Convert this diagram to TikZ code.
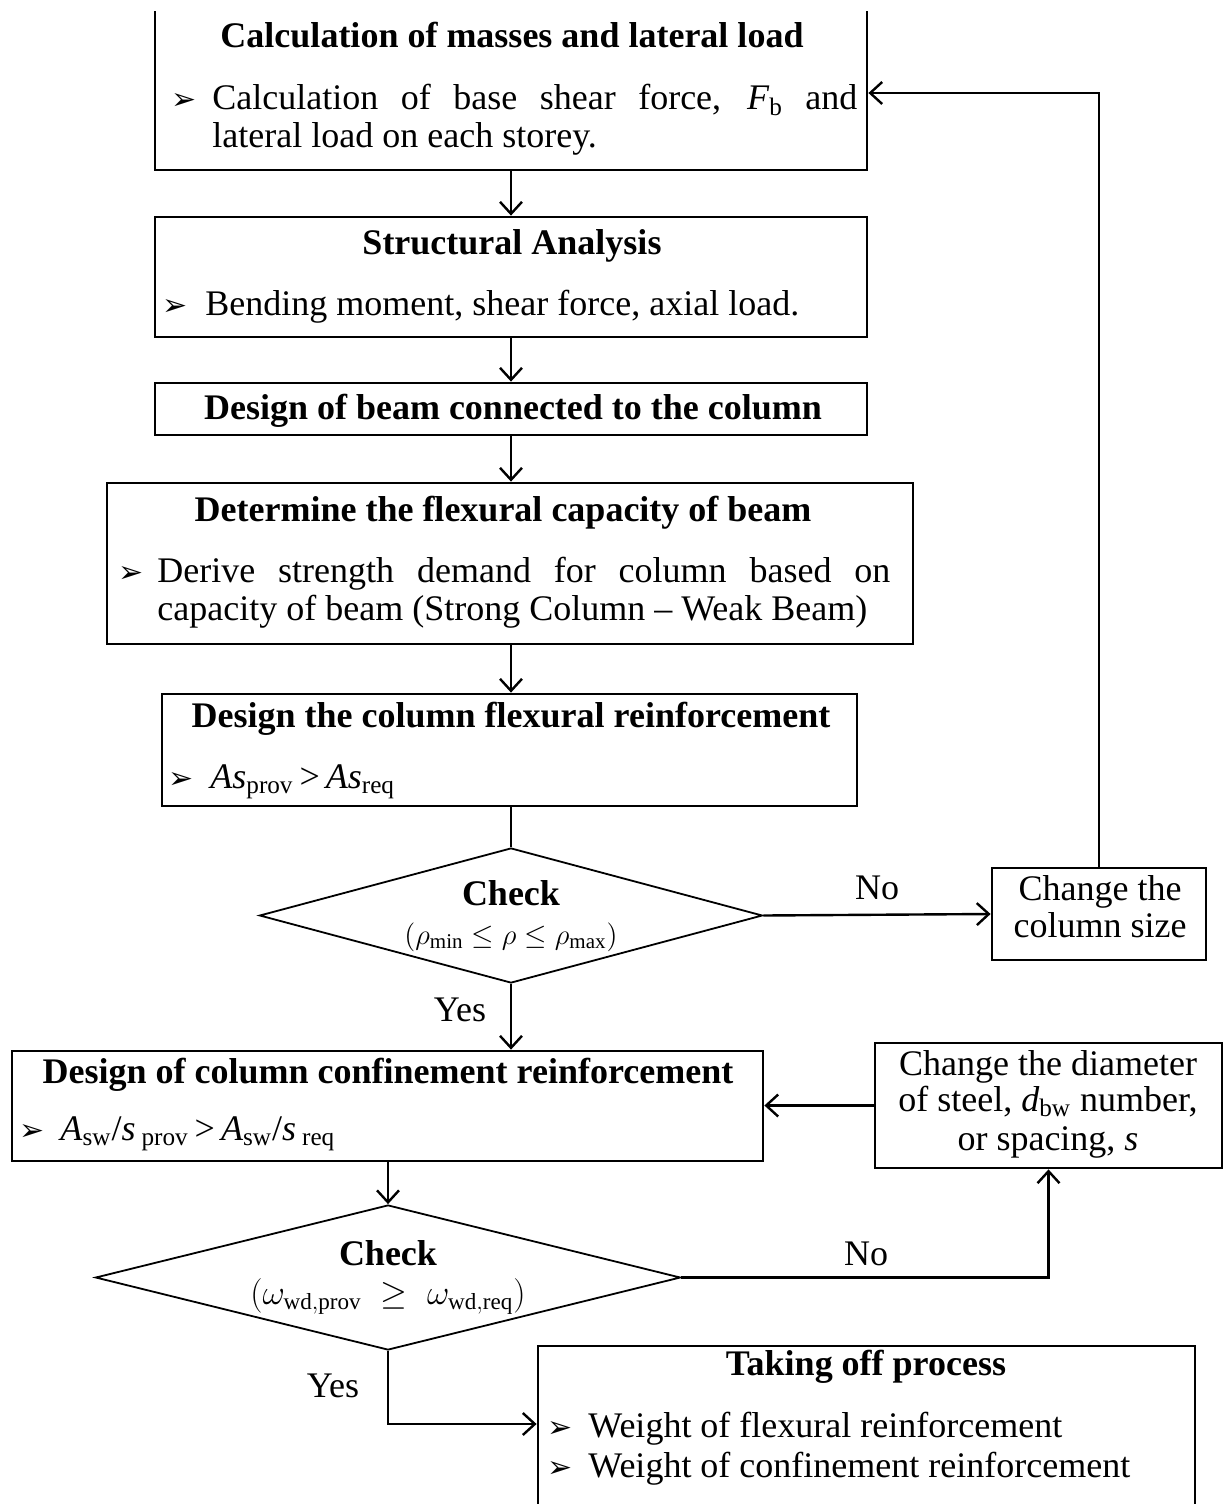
\documentclass[tikz,border=0pt]{standalone}
\usepackage{fontspec}
\setmainfont{Liberation Serif}
\newfontfamily\dejavu{DejaVu Sans}
\usetikzlibrary{arrows.meta,shapes.geometric,calc}
\begin{document}
\begin{tikzpicture}[x=0.5pt,y=-0.5pt,
  box/.style={draw=black,line width=1.4pt,rectangle,inner sep=0pt},
  dia/.style={draw=black,line width=0.9pt,diamond,inner sep=0pt},
  txt/.style={font=\fontsize{18}{19}\selectfont,inner sep=0pt},
  ttl/.style={font=\fontsize{18}{19}\selectfont\bfseries,inner sep=0pt,anchor=base},
  bul/.style={font=\dejavu\fontsize{15}{16}\selectfont,inner sep=0pt,anchor=base},
  conn/.style={line width=1.2pt},
  arr/.style={line width=1.2pt,-{Straight Barb[length=6pt,width=11pt,line width=1.2pt]}}]
\useasboundingbox (0,0) rectangle (1224,1504);
\fill[white] (0,0) rectangle (1224,1504);
\clip (0,12) rectangle (1224,1504);
% boxes
\node[box,minimum width=356pt,minimum height=95pt] (b1) at (511,75) {};
\node[box,minimum width=356pt,minimum height=60pt] (b2) at (511,277) {};
\node[box,minimum width=356pt,minimum height=26pt] (b3) at (511,409) {};
\node[box,minimum width=403pt,minimum height=80.5pt] (b4) at (510,563.5) {};
\node[box,minimum width=347.5pt,minimum height=56pt] (b5) at (509.5,750) {};
\node[box,minimum width=107pt,minimum height=46pt] (b6) at (1099,914) {};
\node[box,minimum width=375.5pt,minimum height=55pt] (b7) at (387.5,1106) {};
\node[box,minimum width=173.5pt,minimum height=62.5pt] (b8) at (1048.5,1105.5) {};
\node[box,minimum width=328.5pt,minimum height=92pt] (b9) at (866.5,1438) {};
\node[dia,minimum width=251.5pt,minimum height=67.5pt] (d1) at (511,915.5) {};
\node[dia,minimum width=292.5pt,minimum height=72.5pt] (d2) at (388,1277.5) {};
% box 1 text
\node[ttl] (t1) at (512,48) {Calculation of masses and lateral load};
\node[bul] (u1) at (184,110) {➢};
\node[txt,anchor=base west] (l1a) at (212,110) {\makebox[322.5pt][s]{Calculation of base shear force, \textit{F}\textsubscript{b} and}};
\node[txt,anchor=base west] (l1b) at (212,148) {lateral load on each storey.};
% box 2
\node[ttl] (t2) at (512,254) {Structural Analysis};
\node[bul] (u2) at (175,315) {➢};
\node[txt,anchor=base west] (l2) at (205,315) {Bending moment, shear force, axial load.};
% box 3
\node[ttl] (t3) at (513,419) {Design of beam connected to the column};
% box 4
\node[ttl] (t4) at (503,521) {Determine the flexural capacity of beam};
\node[bul] (u4) at (131,582) {➢};
\node[txt,anchor=base west] (l4a) at (157,582) {\makebox[366.5pt][s]{Derive strength demand for column based on}};
\node[txt,anchor=base west] (l4b) at (157,620) {capacity of beam (Strong Column -- Weak Beam)};
% box 5
\node[ttl] (t5) at (511,727) {Design the column flexural reinforcement};
\node[bul] (u5) at (181,788) {➢};
\node[txt,anchor=base west] (l5) at (210,788) {\textit{As}\textsubscript{prov}\,{>}\,\textit{As}\textsubscript{req}};
% diamond 1
\node[ttl,text depth=0pt] (c1) at (511,905) {Check};
\node[txt,anchor=base,text height=8pt,text depth=3pt,font=\fontsize{15}{16}\selectfont] (c1b) at (511,944) {$(\rho_{\mathrm{min}}\le\rho\le\rho_{\mathrm{max}})$};
% box 6
\node[txt,anchor=base] (l6a) at (1100,900) {Change the};
\node[txt,anchor=base] (l6b) at (1100,937) {column size};
% box 7
\node[ttl] (t7) at (388,1083) {Design of column confinement reinforcement};
\node[bul] (u7) at (32,1140) {➢};
\node[txt,anchor=base west] (l7) at (60,1140) {\textit{A}\textsubscript{sw}/\textit{s}\,\textsubscript{prov}\,{>}\,\textit{A}\textsubscript{sw}/\textit{s}\,\textsubscript{req}};
% box 8
\node[txt,anchor=base] (l8a) at (1048,1075) {Change the diameter};
\node[txt,anchor=base] (l8b) at (1048,1111) {of steel, \textit{d}\textsubscript{bw} number,};
\node[txt,anchor=base] (l8c) at (1048,1150) {or spacing, \textit{s}};
% diamond 2
\node[ttl,text depth=0pt] (c2) at (388,1265) {Check};
\node[txt,anchor=base,text height=8pt,text depth=3pt,font=\fontsize{16.5}{16}\selectfont] (c2b) at (388,1304) {$(\omega_{\mathrm{wd,prov}}\;\ge\;\omega_{\mathrm{wd,req}})$};
% box 9
\node[ttl] (t9) at (866,1375) {Taking off process};
\node[bul] (u9a) at (560,1437) {➢};
\node[txt,anchor=base west] (l9a) at (588,1437) {Weight of flexural reinforcement};
\node[bul] (u9b) at (560,1477) {➢};
\node[txt,anchor=base west] (l9b) at (588,1477) {Weight of confinement reinforcement};
% labels
\node[txt,anchor=base] (no1) at (877,899) {No};
\node[txt,anchor=base] (yes1) at (460,1021) {Yes};
\node[txt,anchor=base] (no2) at (866,1265) {No};
\node[txt,anchor=base] (yes2) at (333,1397) {Yes};
% connectors
\draw[arr] (b1.south) -- (b2.north);
\draw[arr] (b2.south) -- (b3.north);
\draw[arr] (b3.south) -- (b4.north -| b3.south);
\draw[arr] (b4.south -| b3.south) -- (b5.north -| b3.south);
\draw[conn] (b5.south -| d1.north) -- (d1.north);
\draw[arr] (d1.east) -- (b6.west);
\draw[arr,line width=0.9pt] (b6.north) |- ($(b1.east)+(0,18)$);
\draw[arr] (d1.south) -- (d1.south |- b7.north);
\draw[arr] (b8.west) -- (b8.west -| b7.east);
\draw[arr] (b7.south -| d2.north) -- (d2.north);
\draw[arr] (d2.east) -| (b8.south);
\draw[arr] (d2.south) |- ($(b9.west)+(0,-14)$);
\end{tikzpicture}
\end{document}
